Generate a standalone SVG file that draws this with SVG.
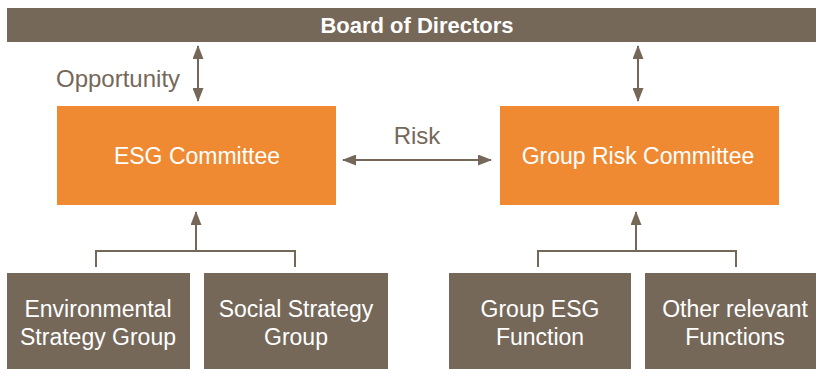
<svg xmlns="http://www.w3.org/2000/svg" width="816" height="369" viewBox="0 0 816 369">
<style>
.brown{fill:#766859}
.orange{fill:#F08A32}
.wt{fill:#ffffff;font-family:"Liberation Sans",Arial,sans-serif;font-size:23px;text-anchor:middle}
.bt{fill:#ffffff;font-family:"Liberation Sans",Arial,sans-serif;font-size:22px;font-weight:bold;text-anchor:middle}
.lbl{fill:#766859;font-family:"Liberation Sans",Arial,sans-serif;font-size:24px}
.ln{stroke:#766859;stroke-width:2;fill:none}
</style>
<defs>
<marker id="ah" viewBox="0 0 14 11" refX="13" refY="5.5" markerWidth="7" markerHeight="5.5" orient="auto-start-reverse" markerUnits="strokeWidth">
<path d="M0,0 L14,5.5 L0,11 Z" fill="#766859"/>
</marker>
</defs>
<rect width="816" height="369" fill="#ffffff"/>
<g id="board">
<rect class="brown" x="7" y="8" width="809" height="34"/>
<text class="bt" x="417" y="33">Board of Directors</text>
</g>
<g id="esg">
<rect class="orange" x="57" y="106" width="279" height="99"/>
<text class="wt" x="197" y="164">ESG Committee</text>
</g>
<g id="grc">
<rect class="orange" x="500" y="106" width="279" height="99"/>
<text class="wt" x="638" y="164">Group Risk Committee</text>
</g>
<g id="env">
<rect class="brown" x="7" y="273" width="183" height="96"/>
<text class="wt" x="98" y="317">Environmental</text>
<text class="wt" x="98" y="345">Strategy Group</text>
</g>
<g id="social">
<rect class="brown" x="204" y="273" width="184" height="96"/>
<text class="wt" x="296" y="317">Social Strategy</text>
<text class="wt" x="296" y="345">Group</text>
</g>
<g id="groupesg">
<rect class="brown" x="449" y="273" width="182" height="96"/>
<text class="wt" x="540" y="317">Group ESG</text>
<text class="wt" x="540" y="345">Function</text>
</g>
<g id="other">
<rect class="brown" x="645" y="273" width="171" height="96"/>
<text class="wt" x="735" y="317">Other relevant</text>
<text class="wt" x="735" y="345">Functions</text>
</g>
<g id="connectors">
<line class="ln" x1="198" y1="46" x2="198" y2="101" marker-start="url(#ah)" marker-end="url(#ah)"/>
<line class="ln" x1="638" y1="46" x2="638" y2="101" marker-start="url(#ah)" marker-end="url(#ah)"/>
<line class="ln" x1="343" y1="160" x2="491" y2="160" marker-start="url(#ah)" marker-end="url(#ah)"/>
<polyline class="ln" points="96,267 96,251 295,251 295,267"/>
<line class="ln" x1="196" y1="251" x2="196" y2="212" marker-end="url(#ah)"/>
<polyline class="ln" points="538,267 538,251 736,251 736,267"/>
<line class="ln" x1="636" y1="251" x2="636" y2="212" marker-end="url(#ah)"/>
<text class="lbl" x="56" y="87">Opportunity</text>
<text class="lbl" x="417" y="144" text-anchor="middle">Risk</text>
</g>
</svg>
